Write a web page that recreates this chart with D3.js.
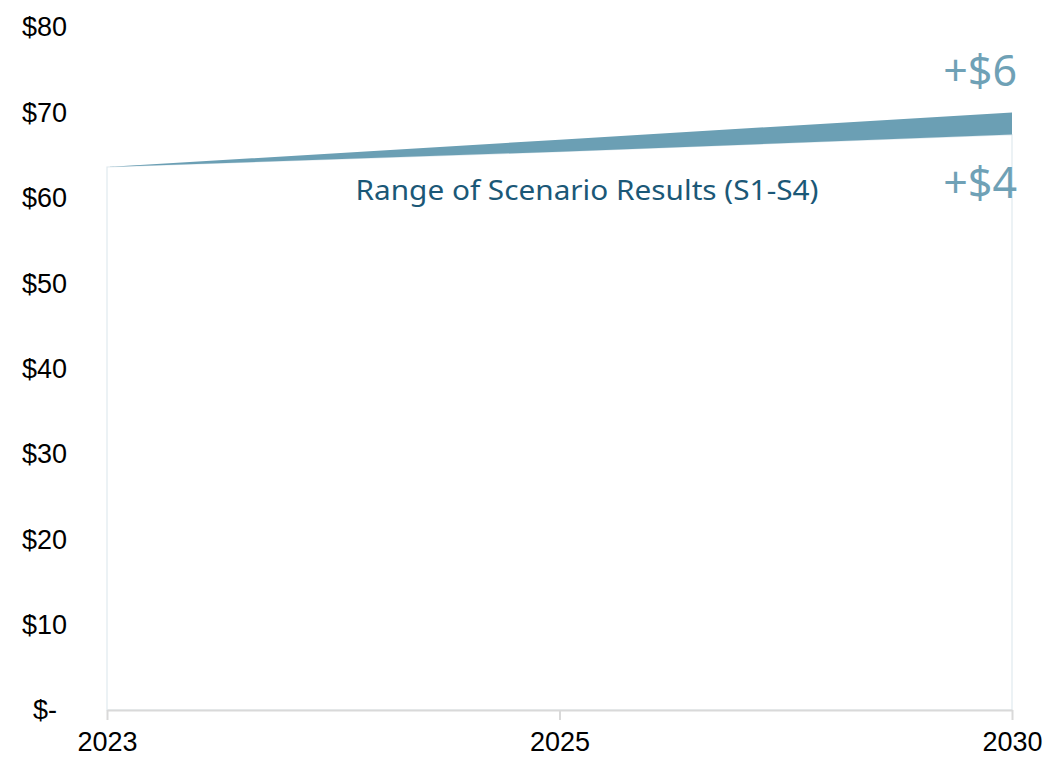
<!DOCTYPE html>
<html><head><meta charset="utf-8">
<script src="https://cdn.jsdelivr.net/npm/d3@7"></script>
<style>body{margin:0;background:#fff}svg{display:block}</style>
</head><body>
<svg id="chart" width="1064" height="764"></svg>
<script>
const years = ["2023", "2025", "2030"];
const lowValues = [63.6, 65.4, 67.4];
const highValues = [63.6, 66.8, 70.0];
const yTicks = [0, 10, 20, 30, 40, 50, 60, 70, 80];
const rangeLabel = "Range of Scenario Results (S1-S4)";
const highLabel = "+$6";
const lowLabel = "+$4";

const svg = d3.select("#chart");
const x = d3.scalePoint().domain(years).range([107, 1012]);
const y = d3.scaleLinear().domain([0, 80]).range([710, 27]);
const data = years.map((yr, i) => ({yr, lo: lowValues[i], hi: highValues[i]}));

// base area (white with faint outline)
svg.append("path")
  .datum(data)
  .attr("d", d3.area().x(d => x(d.yr)).y0(y(0)).y1(d => y(d.lo)))
  .attr("fill", "#fff").attr("stroke", "#dfe9ee").attr("stroke-width", 1.2);

// band
svg.append("path")
  .datum(data)
  .attr("d", d3.area().x(d => x(d.yr)).y0(d => y(d.lo)).y1(d => y(d.hi)))
  .attr("fill", "#6b9fb4");

// x axis
const xAxis = svg.append("g").attr("transform", `translate(0,${y(0)})`)
  .call(d3.axisBottom(x).tickSize(10).tickSizeOuter(0).tickPadding(12));
xAxis.select(".domain").attr("stroke", "#d9d9d9").attr("stroke-width", 2);
xAxis.selectAll(".tick line").attr("stroke", "#d9d9d9").attr("stroke-width", 2);
xAxis.selectAll(".tick text").attr("font-family", "Liberation Sans, Arial, sans-serif")
  .attr("font-size", 27).attr("fill", "#000");

// y labels (accounting style)
const yl = svg.append("g");
yl.selectAll("text").data(yTicks).join("text")
  .attr("x", d => d === 0 ? 33 : 22)
  .attr("y", d => y(d))
  .attr("dy", "0.35em")
  .attr("font-family", "Liberation Sans, Arial, sans-serif")
  .attr("font-size", 27).attr("fill", "#000")
  .text(d => d === 0 ? "$-" : "$" + d);

// annotations
svg.append("text").attr("x", 587).attr("y", 200).attr("text-anchor", "middle")
  .attr("font-family", "'Noto Sans', 'Open Sans', sans-serif").attr("font-size", 27)
  .attr("textLength", 463).attr("lengthAdjust", "spacingAndGlyphs")
  .attr("fill", "#1b5877").text(rangeLabel);

svg.append("text").attr("x", 1017).attr("y", 86).attr("text-anchor", "end")
  .attr("font-family", "'Noto Sans', 'Open Sans', sans-serif").attr("font-size", 43)
  .attr("fill", "#6fa1b6").text(highLabel);
svg.append("text").attr("x", 1017).attr("y", 198).attr("text-anchor", "end")
  .attr("font-family", "'Noto Sans', 'Open Sans', sans-serif").attr("font-size", 43)
  .attr("fill", "#6fa1b6").text(lowLabel);
</script>
</body></html>
